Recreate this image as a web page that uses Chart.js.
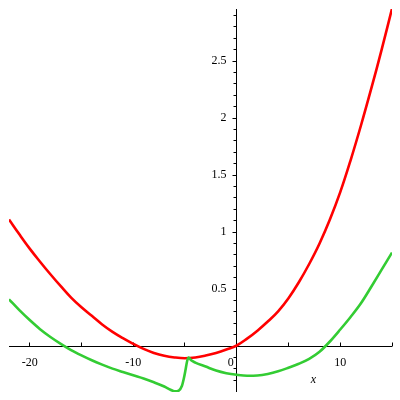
<!DOCTYPE html>
<html>
<head>
<meta charset="utf-8">
<script src="https://cdn.jsdelivr.net/npm/chart.js@4"></script>
<style>
html, body { margin: 0; padding: 0; background: #fff; }
#plot { display: block; }
</style>
</head>
<body>
<canvas id="plot" width="400" height="400"></canvas>
<script>
// curve samples
const redX = [-22, -21, -20, -19, -18, -17, -16, -15, -14, -13, -12, -11, -10, -9, -8, -7, -6, -5, -4, -3, -2, -1, 0,
              1, 2, 3, 4, 5, 6, 7, 8, 9, 10, 11, 12, 13, 14, 15];
const redY = [1.11, 0.98, 0.855, 0.74, 0.63, 0.525, 0.425, 0.34, 0.265, 0.19, 0.125, 0.07, 0.02, -0.025, -0.06, -0.085, -0.10, -0.107, -0.10, -0.083, -0.06, -0.03, 0.005,
              0.065, 0.135, 0.215, 0.305, 0.42, 0.56, 0.72, 0.90, 1.11, 1.35, 1.63, 1.935, 2.26, 2.60, 2.96];

const greenX = [-22, -21, -20, -19, -18, -17, -16, -15, -14, -13, -12, -11, -10, -9, -8, -7, -6.4, -6, -5.6, -5.3, -5.1, -4.95, -4.8, -4.65,
                -4.4, -4, -3, -2, -1, 0, 1, 2, 3, 4, 5, 6, 7, 8, 9, 10, 11, 12, 13, 14, 15];
const greenY = [0.41, 0.315, 0.228, 0.148, 0.08, 0.02, -0.035, -0.082, -0.125, -0.163, -0.198, -0.228, -0.257, -0.285, -0.318, -0.355, -0.383, -0.397, -0.39, -0.35, -0.28, -0.21, -0.135, -0.10,
                -0.125, -0.145, -0.18, -0.215, -0.238, -0.252, -0.26, -0.258, -0.245, -0.222, -0.19, -0.155, -0.112, -0.05, 0.04, 0.145, 0.255, 0.375, 0.52, 0.67, 0.82];

// axis ticks
const xMajorTicks = [-20, -10, 0, 10];
const xTickLabels = ['-20', '-10', '0', '10'];
const xMinorTicks = [-15, -5, 5, 15];
const yMajorTicks = [0.5, 1, 1.5, 2, 2.5];
const yTickLabels = ['0.5', '1', '1.5', '2', '2.5'];
const yMinorTicks = [-0.3, -0.2, -0.1, 0.1, 0.2, 0.3, 0.4, 0.6, 0.7, 0.8, 0.9, 1.1, 1.2, 1.3, 1.4,
                     1.6, 1.7, 1.8, 1.9, 2.1, 2.2, 2.3, 2.4, 2.6, 2.7, 2.8, 2.9];
const xAxisTitle = 'x';
const xTitleAt = 7.4;

const toPoints = (xs, ys) => xs.map((v, i) => ({ x: v, y: ys[i] }));

// Maple style axes crossing at the origin
const crossAxes = {
    id: 'crossAxes',
    beforeDatasetsDraw(chart) {
        const { ctx, chartArea, scales: { x, y } } = chart;
        const x0 = Math.floor(x.getPixelForValue(0)) + 0.5;
        const y0 = Math.floor(y.getPixelForValue(0)) + 0.5;

        ctx.save();
        ctx.strokeStyle = '#000';
        ctx.lineWidth = 1;
        ctx.beginPath();
        ctx.moveTo(chartArea.left, y0);
        ctx.lineTo(chartArea.right, y0);
        ctx.moveTo(x0, chartArea.top);
        ctx.lineTo(x0, chartArea.bottom);

        xMajorTicks.concat(xMinorTicks).forEach(v => {
            const px = Math.floor(x.getPixelForValue(v)) + 0.5;
            ctx.moveTo(px, y0);
            ctx.lineTo(px, y0 - 4);
        });
        yMajorTicks.forEach(v => {
            const py = Math.floor(y.getPixelForValue(v)) + 0.5;
            ctx.moveTo(x0, py);
            ctx.lineTo(x0 - 4, py);
        });
        yMinorTicks.forEach(v => {
            const py = Math.floor(y.getPixelForValue(v)) + 0.5;
            ctx.moveTo(x0, py);
            ctx.lineTo(x0 - 3, py);
        });
        ctx.stroke();

        ctx.fillStyle = '#000';
        ctx.font = '12px "Liberation Serif", "DejaVu Serif", serif';
        ctx.textAlign = 'center';
        ctx.textBaseline = 'alphabetic';
        xMajorTicks.forEach((v, i) => {
            let px = x.getPixelForValue(v);
            if (v === 0) px -= 6;
            ctx.fillText(xTickLabels[i], px, y0 + 19);
        });

        ctx.textAlign = 'right';
        ctx.textBaseline = 'middle';
        yMajorTicks.forEach((v, i) => {
            ctx.fillText(yTickLabels[i], x0 - 10, y.getPixelForValue(v));
        });

        ctx.font = 'italic 12px "Liberation Serif", "DejaVu Serif", serif';
        ctx.textAlign = 'center';
        ctx.textBaseline = 'alphabetic';
        ctx.fillText(xAxisTitle, x.getPixelForValue(xTitleAt), y0 + 36);
        ctx.restore();
    }
};

new Chart(document.getElementById('plot'), {
    type: 'scatter',
    data: {
        datasets: [
            {
                data: toPoints(greenX, greenY),
                showLine: true,
                borderColor: 'rgb(51, 204, 51)',
                borderWidth: 2.6,
                pointRadius: 0,
                cubicInterpolationMode: 'monotone'
            },
            {
                data: toPoints(redX, redY),
                showLine: true,
                borderColor: '#ff0000',
                borderWidth: 2.6,
                pointRadius: 0,
                tension: 0.4
            }
        ]
    },
    options: {
        responsive: false,
        animation: false,
        devicePixelRatio: 1,
        events: [],
        layout: { padding: { left: 9, right: 8, top: 9, bottom: 8 } },
        plugins: {
            legend: { display: false },
            tooltip: { enabled: false }
        },
        scales: {
            x: { type: 'linear', min: -22, max: 15, display: false },
            y: { type: 'linear', min: -0.403, max: 2.957, display: false }
        }
    },
    plugins: [crossAxes]
});
</script>
</body>
</html>
